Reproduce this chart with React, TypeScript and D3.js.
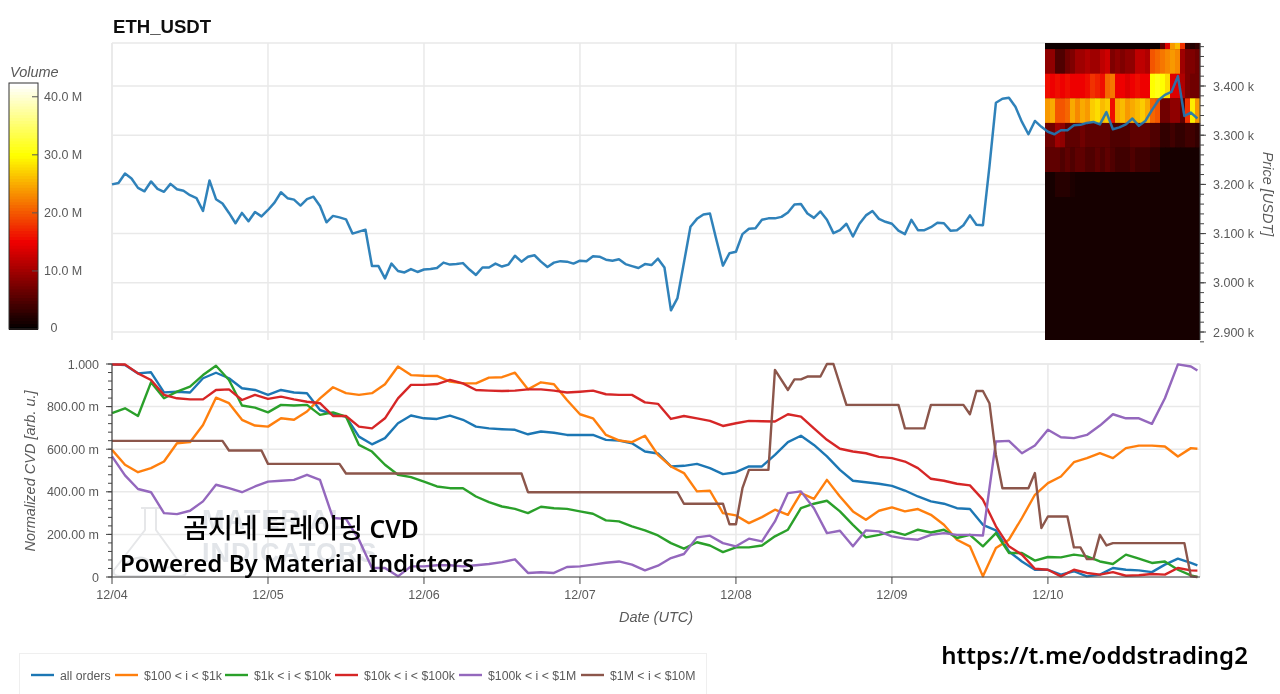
import React from "react";
import * as d3 from "d3";

const dayLabels = ["12/04", "12/05", "12/06", "12/07", "12/08", "12/09", "12/10"];
const priceTicks = [2900, 3000, 3100, 3200, 3300, 3400];
const cvdTicks = [0, 200, 400, 600, 800, 1000];
const cvdTickLabels = ["0", "200.00 m", "400.00 m", "600.00 m", "800.00 m", "1.000"];
const volumeTicks = [0, 10, 20, 30, 40];
const volumeTickLabels = ["0", "10.0 M", "20.0 M", "30.0 M", "40.0 M"];

// hourly close
const price = [
  3200, 3203, 3222, 3212, 3193, 3186, 3206, 3191, 3185, 3201, 3190, 3187, 3178, 3172, 3146, 3208, 3170, 3161, 3142, 3121, 3142, 3125, 3144, 3135,
  3148, 3163, 3184, 3172, 3169, 3157, 3170, 3175, 3156, 3123, 3136, 3133, 3129, 3100, 3104, 3108, 3034, 3034, 3009, 3039, 3024, 3021, 3028, 3022,
  3027, 3028, 3030, 3041, 3037, 3038, 3040, 3027, 3016, 3031, 3031, 3039, 3033, 3037, 3055, 3043, 3053, 3056, 3043, 3032, 3041, 3044, 3043, 3039,
  3045, 3044, 3054, 3053, 3047, 3045, 3048, 3038, 3034, 3030, 3038, 3036, 3049, 3031, 2944, 2969, 3041, 3114, 3130, 3139, 3141, 3087, 3035, 3060,
  3063, 3099, 3110, 3111, 3128, 3131, 3131, 3134, 3143, 3159, 3160, 3141, 3132, 3145, 3128, 3101, 3107, 3120, 3094, 3120, 3137, 3146, 3130, 3124,
  3120, 3106, 3099, 3128, 3107, 3107, 3113, 3122, 3121, 3106, 3107, 3117, 3137, 3118, 3117, 3236, 3366, 3374, 3376, 3358, 3327, 3302, 3329, 3317,
  3307, 3302, 3310, 3310, 3320, 3321, 3325, 3327, 3322, 3347, 3312, 3316, 3322, 3334, 3319, 3329, 3351, 3371, 3382, 3388, 3420, 3339, 3346, 3334,
];

// two-hourly samples, the last one at hour 167 (values in milli-units)
const cvdAll = [
  998, 995, 956, 961, 867, 870, 866, 933, 959, 933, 886, 878, 855, 878, 866, 863, 784, 764, 753, 659, 623, 652, 722, 758, 745,
  742, 758, 738, 706, 698, 694, 691, 670, 683, 677, 667, 667, 667, 644, 641, 628, 589, 580, 519, 522, 531, 511, 483, 492,
  519, 519, 573, 633, 663, 620, 566, 503, 452, 445, 438, 428, 406, 378, 355, 344, 323, 319, 245, 219, 120, 73, 34, 34, 11, 27, 3, 11, 42, 34, 31, 23, 58, 86, 66, 55,
];
const cvd100 = [
  597, 527, 492, 511, 542, 628, 633, 714, 842, 816, 738, 711, 706, 745, 738, 777, 839, 891, 863, 855, 863, 905, 988, 948, 945,
  944, 917, 909, 909, 936, 938, 959, 881, 914, 905, 831, 764, 745, 667, 641, 633, 663, 573, 519, 488, 402, 405, 300, 289,
  253, 281, 316, 292, 394, 367, 456, 378, 308, 269, 311, 327, 308, 319, 292, 245, 175, 144, 3, 136, 175, 277, 386, 441, 472, 539, 558, 581, 558, 605, 617, 617, 613, 566, 605, 602,
];
const cvd1k = [
  769, 792, 756, 914, 839, 870, 894, 948, 992, 925, 805, 795, 773, 808, 805, 808, 761, 773, 753, 620, 589, 527, 480, 469, 448,
  425, 417, 417, 378, 352, 331, 320, 300, 330, 323, 320, 308, 297, 266, 261, 238, 219, 195, 159, 133, 163, 148, 117, 139,
  139, 148, 191, 222, 323, 344, 358, 308, 245, 186, 198, 214, 198, 222, 209, 222, 183, 198, 144, 206, 113, 113, 77, 94, 92, 105, 97, 73, 61, 105, 86, 66, 73, 34, 8, 0,
];
const cvd10k = [
  998, 998, 956, 925, 855, 839, 834, 834, 878, 881, 831, 855, 836, 847, 834, 823, 816, 756, 756, 706, 698, 745, 839, 902, 902,
  906, 925, 909, 878, 875, 873, 875, 881, 881, 875, 866, 870, 875, 858, 855, 855, 820, 813, 742, 756, 745, 733, 709, 722,
  733, 731, 730, 764, 753, 698, 644, 602, 589, 581, 564, 558, 542, 511, 461, 452, 438, 430, 363, 238, 144, 105, 39, 34, 3, 34, 19, 11, 23, 6, 8, 14, 11, 42, 31, 30,
];
const cvd100k = [
  566, 477, 413, 398, 300, 295, 311, 355, 433, 417, 398, 425, 448, 452, 456, 480, 456, 277, 273, 175, 42, 42, 3, 50, 50,
  55, 55, 50, 55, 61, 70, 83, 19, 22, 19, 47, 50, 58, 67, 73, 58, 31, 53, 89, 108, 186, 194, 159, 144,
  180, 167, 261, 394, 402, 323, 206, 217, 144, 219, 214, 191, 180, 175, 198, 206, 198, 198, 195, 636, 639, 581, 617, 691, 656, 652, 667, 711, 764, 745, 745, 719, 839, 998, 988, 969,
];
const cvd1mHours = [
  0, 17, 18, 23, 24, 35, 36, 63, 64, 87, 88, 94, 95, 96, 97, 98, 101, 102, 104, 105, 106, 107, 109, 110, 111, 113, 121, 122, 125, 126, 131, 132, 133, 134, 135,
  136, 137, 141, 142, 143, 144, 147, 148, 149, 150, 151, 152, 153, 154, 165, 166, 167,
];
const cvd1m = [
  639, 639, 594, 594, 531, 531, 486, 486, 398, 398, 344, 344, 248, 248, 417, 503, 503, 972, 878, 928, 928, 941, 941, 1000, 1000, 808, 808, 698, 698, 808, 808, 764, 873, 873, 816,
  573, 417, 417, 488, 230, 284, 284, 139, 139, 84, 84, 198, 148, 159, 159, 3, 0,
];

const seriesNames = ["all orders", "$100 < i < $1k", "$1k < i < $10k", "$10k < i < $100k", "$100k < i < $1M", "$1M < i < $10M"];
const seriesColors = ["#1f77b4", "#ff7f0e", "#2ca02c", "#d62728", "#9467bd", "#8c564b"];

// volume heat map, in millions, one list per 50 USD price bin
const heatBinPrices = [3475, 3425, 3375, 3325, 3275, 3225, 3175];
const heatRow3475 = [1, 1, 1, 1, 1, 1, 1, 1, 1, 1, 1, 1, 1, 1, 1, 1, 1, 1, 1, 1, 1, 1, 1, 6, 14, 24, 26, 18, 3, 2, 3];
const heatRow3425 = [9, 9, 5, 5, 7, 8, 10, 10, 11, 10, 10, 12, 13, 8, 9, 8, 9, 9, 12, 12, 11, 20, 21, 22, 23, 24, 23, 10, 8, 8, 7];
const heatRow3375 = [16, 15, 16, 15, 16, 15, 15, 15, 16, 18, 17, 16, 21, 22, 15, 15, 14, 15, 16, 15, 15, 30, 31, 30, 28, 14, 14, 11, 8, 7, 7];
const heatRow3325 = [24, 25, 20, 20, 21, 25, 23, 25, 24, 27, 28, 26, 27, 16, 25, 26, 24, 25, 26, 27, 25, 21, 20, 7, 7, 9, 9, 6, 18, 29, 24];
const heatRow3275 = [7, 7, 10, 9, 6, 6, 6, 7, 6, 6, 6, 6, 6, 5, 5, 5, 5, 6, 6, 6, 6, 5, 5, 3, 3, 4, 3, 3, 4, 4, 3];
const heatRow3225 = [6, 6, 6, 5, 6, 5, 6, 6, 5, 5, 6, 5, 6, 5, 4, 4, 4, 5, 4, 4, 4, 3, 3, 1.6, 1.6, 1.6, 1.6, 1.6, 1.6, 1.6, 1.6];
const heatRow3175 = [1.3, 1.3, 2.4, 2.4, 2.4, 1.8, 1.4, 1.4, 1.4, 1.4, 1.4, 1.2, 1.2, 1.2, 1.2, 1.2, 1.2, 1.2, 1.2, 1.2, 1.2, 1.2, 1.2, 1.2, 1.2, 1.2, 1.2, 1.2, 1.2, 1.2, 1.2];
const heatRows = [heatRow3475, heatRow3425, heatRow3375, heatRow3325, heatRow3275, heatRow3225, heatRow3175];
const floorVolume = 1.2;

const FONT = "'Liberation Sans', Arial, sans-serif";
const GRID = "#e9e9e9";
const TICK_TEXT = "#5a5a5a";

const x = d3.scaleLinear().domain([0, 167.4]).range([112, 1200]);
const yPrice = d3.scaleLinear().domain([2900, 3400]).range([332, 86]);
const yCvd = d3.scaleLinear().domain([0, 1000]).range([577, 364]);
const yVol = d3.scaleLinear().domain([0, 42.2]).range([329, 84]);
const hot = d3
  .scaleLinear<string>()
  .domain([0, 15, 30, 42.2])
  .range(["#000000", "#ee0000", "#ffff00", "#ffffff"])
  .clamp(true);

const hourOfIndex = (i: number) => Math.min(i * 2, 167);
const line = d3
  .line<[number, number]>()
  .x((d) => x(d[0]))
  .y((d) => yCvd(d[1]));
const pricePath = d3
  .line<number>()
  .x((_, i) => x(i))
  .y((d) => yPrice(d))(price) as string;

const cvdSeries: [number, number][][] = [
  cvdAll.map((v, i) => [hourOfIndex(i), v]),
  cvd100.map((v, i) => [hourOfIndex(i), v]),
  cvd1k.map((v, i) => [hourOfIndex(i), v]),
  cvd10k.map((v, i) => [hourOfIndex(i), v]),
  cvd100k.map((v, i) => [hourOfIndex(i), v]),
  cvd1m.map((v, i) => [cvd1mHours[i], v]),
];

const dayHours = dayLabels.map((_, i) => i * 24);
const priceMinor = d3.range(2880, 3490, 20);
const cvdMinor = d3.range(0, 1001, 40);
const volumeBands = d3.range(0, 42.2, 0.5);
const legendGlyphX = [31, 115, 225, 335, 459, 581];

const heatX0 = 1045;
const heatCellWidth = 5;

const captionLatin = "'Noto Sans', 'Noto Sans CJK KR', sans-serif";

export default function App() {
  return (
    <svg
      width={1280}
      height={694}
      viewBox="0 0 1280 694"
      style={{ position: "absolute", left: 0, top: 0, display: "block", background: "#fff" }}
      fontFamily={FONT}
    >
      <defs>
        <filter id="soft" x="-2%" y="-2%" width="104%" height="104%">
          <feGaussianBlur stdDeviation="0.35" />
        </filter>
      </defs>

      <g filter="url(#soft)">
        {/* title */}
        <text x={113} y={33} fontSize={18.6} fontWeight="bold" fill="#111">ETH_USDT</text>

        {/* top panel grid */}
        <line x1={112} x2={1200} y1={43} y2={43} stroke={GRID} strokeWidth={1.5} />
        <line x1={112} x2={112} y1={43} y2={340} stroke={GRID} strokeWidth={1.5} />
        {dayHours.map((h) => (
          <line key={h} x1={x(h)} x2={x(h)} y1={43} y2={340} stroke={GRID} strokeWidth={1.5} />
        ))}
        {priceTicks.map((p) => (
          <line key={p} x1={112} x2={1200} y1={yPrice(p)} y2={yPrice(p)} stroke={GRID} strokeWidth={1.5} />
        ))}

        {/* heat map */}
        <rect x={heatX0} y={43} width={155} height={297} fill={hot(floorVolume)} />
        {heatRows.map((row, r) =>
          row.map((v, c) => {
            const top = Math.max(43, yPrice(heatBinPrices[r] + 50));
            const bottom = yPrice(heatBinPrices[r]);
            return (
              <rect
                key={`${r}-${c}`}
                x={heatX0 + c * heatCellWidth}
                y={top}
                width={heatCellWidth + 0.3}
                height={bottom - top + 0.3}
                fill={hot(v)}
              />
            );
          })
        )}

        {/* price line */}
        <path d={pricePath} fill="none" stroke="#1f77b4" strokeWidth={2.5} strokeOpacity={0.92} strokeLinejoin="round" />

        {/* price axis */}
        <line x1={1200} x2={1200} y1={43} y2={340} stroke="#444" strokeWidth={1} />
        {priceMinor.map((p) => (
          <line key={p} x1={1200} x2={1204} y1={yPrice(p)} y2={yPrice(p)} stroke="#444" />
        ))}
        {priceTicks.map((p) => (
          <g key={p}>
            <line x1={1200} x2={1206} y1={yPrice(p)} y2={yPrice(p)} stroke="#444" />
            <text x={1213} y={yPrice(p) + 4.5} fontSize={12.5} fill={TICK_TEXT}>
              {d3.format(".3f")(p / 1000)} k
            </text>
          </g>
        ))}
        <text transform="translate(1263,194) rotate(90)" textAnchor="middle" fontSize={14.5} fontStyle="italic" fill={TICK_TEXT}>
          Price [USDT]
        </text>

        {/* colour bar */}
        <text x={10} y={77} fontSize={14.5} fontStyle="italic" fill={TICK_TEXT}>Volume</text>
        {volumeBands.map((v) => (
          <rect key={v} x={9} y={yVol(v + 0.5)} width={29} height={yVol(v) - yVol(v + 0.5) + 1} fill={hot(v + 0.25)} />
        ))}
        <rect x={9} y={83} width={29} height={246} fill="none" stroke="#333" strokeWidth={1} />
        {volumeTicks.map((v, i) => (
          <g key={v}>
            {i > 0 && <line x1={32} x2={38} y1={yVol(v)} y2={yVol(v)} stroke="#555" />}
            <text
              x={i === 0 ? 54 : 44}
              y={yVol(v) + (i === 0 ? 3 : 4.5)}
              textAnchor={i === 0 ? "middle" : "start"}
              fontSize={12.5}
              fill={TICK_TEXT}
            >
              {volumeTickLabels[i]}
            </text>
          </g>
        ))}

        {/* bottom panel grid */}
        <line x1={112} x2={1200} y1={364} y2={364} stroke={GRID} strokeWidth={1.5} />
        <line x1={1200} x2={1200} y1={364} y2={577} stroke={GRID} strokeWidth={1.5} />
        {dayHours.map((h) => (
          <line key={h} x1={x(h)} x2={x(h)} y1={364} y2={577} stroke={GRID} strokeWidth={1.5} />
        ))}
        {cvdTicks.map((v) => (
          <line key={v} x1={112} x2={1200} y1={yCvd(v)} y2={yCvd(v)} stroke={GRID} strokeWidth={1.5} />
        ))}

        {/* watermark */}
        <g stroke="#e6e7e9" strokeWidth={2} fill="none" strokeLinejoin="round">
          <path d="M141 508 H160 M145 508 V530 L114 570 Q112 576 120 576 H180 Q188 576 185 570 L156 530 V508" />
          <path d="M124 565 Q140 552 150 562 T178 565" />
        </g>
        <g fontWeight="bold" fontSize={27} fill="#e2e5e9" letterSpacing={1}>
          <text x={202} y={529}>MATERIAL</text>
          <text x={202} y={562}>INDICATORS</text>
        </g>

        {/* CVD lines */}
        {cvdSeries.map((s, i) => (
          <path key={i} d={line(s) as string} fill="none" stroke={seriesColors[i]} strokeWidth={2.4} strokeLinejoin="round" />
        ))}

        {/* CVD axes */}
        <line x1={112} x2={112} y1={364} y2={577} stroke="#444" strokeWidth={1.2} />
        <line x1={112} x2={1200} y1={577} y2={577} stroke="#444" strokeWidth={1.2} />
        {cvdMinor.map((v) => (
          <line key={v} x1={108} x2={112} y1={yCvd(v)} y2={yCvd(v)} stroke="#444" />
        ))}
        {cvdTicks.map((v, i) => (
          <g key={v}>
            <line x1={106} x2={112} y1={yCvd(v)} y2={yCvd(v)} stroke="#444" />
            <text x={99} y={yCvd(v) + 4.5} textAnchor="end" fontSize={12.5} fill={TICK_TEXT}>
              {cvdTickLabels[i]}
            </text>
          </g>
        ))}
        {dayHours.map((h, i) => (
          <g key={h}>
            <line x1={x(h)} x2={x(h)} y1={577} y2={584} stroke="#444" />
            <text x={x(h)} y={599} textAnchor="middle" fontSize={12.5} fill={TICK_TEXT}>{dayLabels[i]}</text>
          </g>
        ))}
        <text transform="translate(35,471) rotate(-90)" textAnchor="middle" fontSize={14.5} fontStyle="italic" fill={TICK_TEXT}>
          Normalized CVD [arb. u.]
        </text>
        <text x={656} y={622} textAnchor="middle" fontSize={14.5} fontStyle="italic" fill={TICK_TEXT}>Date (UTC)</text>

        {/* legend */}
        <rect x={19.5} y={653.5} width={687} height={45} fill="#fff" stroke="#efefef" />
        {seriesNames.map((name, i) => (
          <g key={name}>
            <line x1={legendGlyphX[i]} x2={legendGlyphX[i] + 23} y1={675} y2={675} stroke={seriesColors[i]} strokeWidth={2.4} />
            <text x={legendGlyphX[i] + 29} y={679.5} fontSize={12.3} fill={TICK_TEXT}>{name}</text>
          </g>
        ))}

        {/* overlay captions */}
        <g fontFamily={captionLatin} fontWeight={600} fill="#000">
          <text x={301} y={538} textAnchor="middle" fontSize={24.6}>
            <tspan fontFamily="'Noto Sans CJK KR', sans-serif" fontWeight={500} fontSize={27}>곰지네 트레이딩</tspan> CVD
          </text>
          <text x={297} y={572} textAnchor="middle" fontSize={24.1}>Powered By Material Indictors</text>
          <text x={1094.5} y={664} textAnchor="middle" fontSize={24}>https://t.me/oddstrading2</text>
        </g>
      </g>
    </svg>
  );
}
